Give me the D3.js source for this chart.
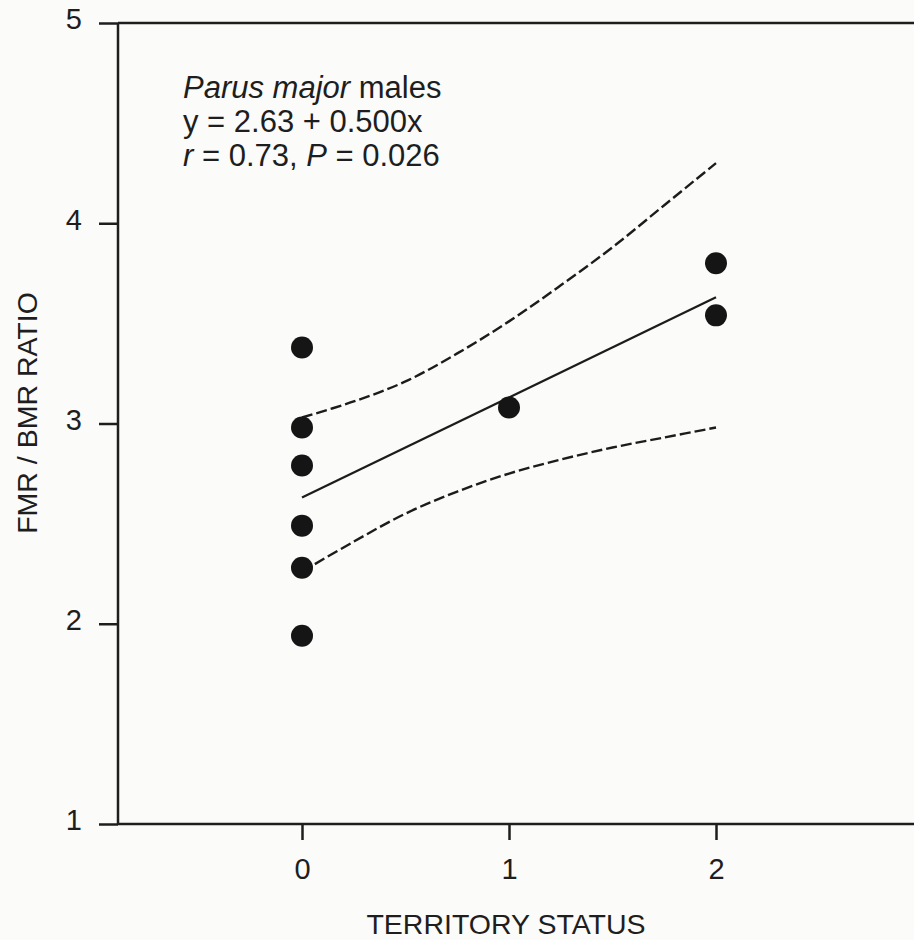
<!DOCTYPE html>
<html>
<head>
<meta charset="utf-8">
<script src="https://cdnjs.cloudflare.com/ajax/libs/d3/7.8.5/d3.min.js"></script>
<style>
  body { margin: 0; background: #fbfbfa; }
  svg { display: block; font-family: Arial, "Liberation Sans", sans-serif; }
  .axis text { fill: #1e1e1e; font-size: 29px; font-family: Arial, "Liberation Sans", sans-serif; }
  .axis line { stroke: #1e1e1e; stroke-width: 2.5; }
  .line { fill: none; stroke: #1c1c1c; stroke-width: 2.2; }
  .band { fill: none; stroke: #1c1c1c; stroke-width: 2.4; stroke-dasharray: 11,4; }
  .dot { fill: #151515; }
  .label { fill: #1e1e1e; }
</style>
</head>
<body>
<div id="chart"></div>
<script>
// territory status (x) and FMR/BMR ratio (y) of each bird
var territory = [0, 0, 0, 0, 0, 0, 1, 2, 2];
var ratio = [3.38, 2.98, 2.79, 2.49, 2.28, 1.94, 3.08, 3.80, 3.54];

// fitted line y = 2.63 + 0.500x, ends read at x = 0 and x = 2
var fitX = [0, 2];
var fitY = [2.63, 3.63];

// dashed confidence bands
var bandX = [0, 0.25, 0.5, 0.75, 1, 1.25, 1.5, 1.75, 2];
var bandUpper = [3.03, 3.11, 3.21, 3.35, 3.51, 3.69, 3.88, 4.09, 4.30];
var bandLower = [2.26, 2.41, 2.55, 2.66, 2.75, 2.82, 2.88, 2.93, 2.98];

var xTicks = [0, 1, 2];
var yTicks = [1, 2, 3, 4, 5];

var width = 914, height = 940;

var svg = d3.select("#chart").append("svg")
  .attr("width", width)
  .attr("height", height);

// scales
var xScale = d3.scaleLinear().domain([0, 2]).range([302, 716]);
var yScale = d3.scaleLinear().domain([1, 5]).range([824, 23]);
var axisLeftX = 118;

// frame: top line and bottom line run to the right edge
svg.append("line")
  .attr("x1", axisLeftX).attr("x2", width)
  .attr("y1", yScale(5)).attr("y2", yScale(5))
  .attr("stroke", "#1e1e1e").attr("stroke-width", 2.5);
svg.append("line")
  .attr("x1", axisLeftX).attr("x2", width)
  .attr("y1", yScale(1)).attr("y2", yScale(1))
  .attr("stroke", "#1e1e1e").attr("stroke-width", 2.5);
svg.append("line")
  .attr("x1", axisLeftX).attr("x2", axisLeftX)
  .attr("y1", yScale(5)).attr("y2", yScale(1))
  .attr("stroke", "#1e1e1e").attr("stroke-width", 2.5);

// y axis
var yAxis = svg.append("g")
  .attr("class", "y axis")
  .attr("transform", "translate(" + axisLeftX + ",0)")
  .call(d3.axisLeft(yScale).tickValues(yTicks).tickSize(19).tickPadding(17).tickFormat(d3.format("d")));
yAxis.select(".domain").remove();
yAxis.selectAll("text").attr("dy", "0.2em");

// x axis
var xAxis = svg.append("g")
  .attr("class", "x axis")
  .attr("transform", "translate(0," + yScale(1) + ")")
  .call(d3.axisBottom(xScale).tickValues(xTicks).tickSize(16).tickPadding(18).tickFormat(d3.format("d")));
xAxis.select(".domain").remove();

// axis titles
svg.append("text")
  .attr("class", "label")
  .attr("x", 506).attr("y", 934)
  .attr("text-anchor", "middle")
  .style("font-size", "28.5px")
  .text("TERRITORY STATUS");

svg.append("text")
  .attr("class", "label")
  .attr("transform", "translate(37,413) rotate(-90)")
  .attr("text-anchor", "middle")
  .style("font-size", "28.5px")
  .text("FMR / BMR RATIO");

// regression line and bands
var line = d3.line()
  .x(function(d) { return xScale(d[0]); })
  .y(function(d) { return yScale(d[1]); })
  .curve(d3.curveCatmullRom);

svg.append("path")
  .datum(d3.zip(fitX, fitY))
  .attr("class", "line")
  .attr("d", line);

svg.append("path")
  .datum(d3.zip(bandX, bandUpper))
  .attr("class", "band")
  .attr("d", line);

svg.append("path")
  .datum(d3.zip(bandX, bandLower))
  .attr("class", "band")
  .attr("d", line);

// points
svg.selectAll(".dot")
  .data(d3.zip(territory, ratio))
  .enter().append("circle")
  .attr("class", "dot")
  .attr("cx", function(d) { return xScale(d[0]); })
  .attr("cy", function(d) { return yScale(d[1]); })
  .attr("r", 11);

// annotation
var note = svg.append("text")
  .attr("class", "label")
  .attr("x", 183).attr("y", 98)
  .style("font-size", "31px");
note.append("tspan").style("font-style", "italic").text("Parus major");
note.append("tspan").text(" males");

svg.append("text")
  .attr("class", "label")
  .attr("x", 183).attr("y", 132)
  .style("font-size", "31px")
  .text("y = 2.63 + 0.500x");

var stat = svg.append("text")
  .attr("class", "label")
  .attr("x", 183).attr("y", 166)
  .style("font-size", "31px");
stat.append("tspan").style("font-style", "italic").text("r");
stat.append("tspan").text(" = 0.73, ");
stat.append("tspan").style("font-style", "italic").text("P");
stat.append("tspan").text(" = 0.026");
</script>
</body>
</html>
